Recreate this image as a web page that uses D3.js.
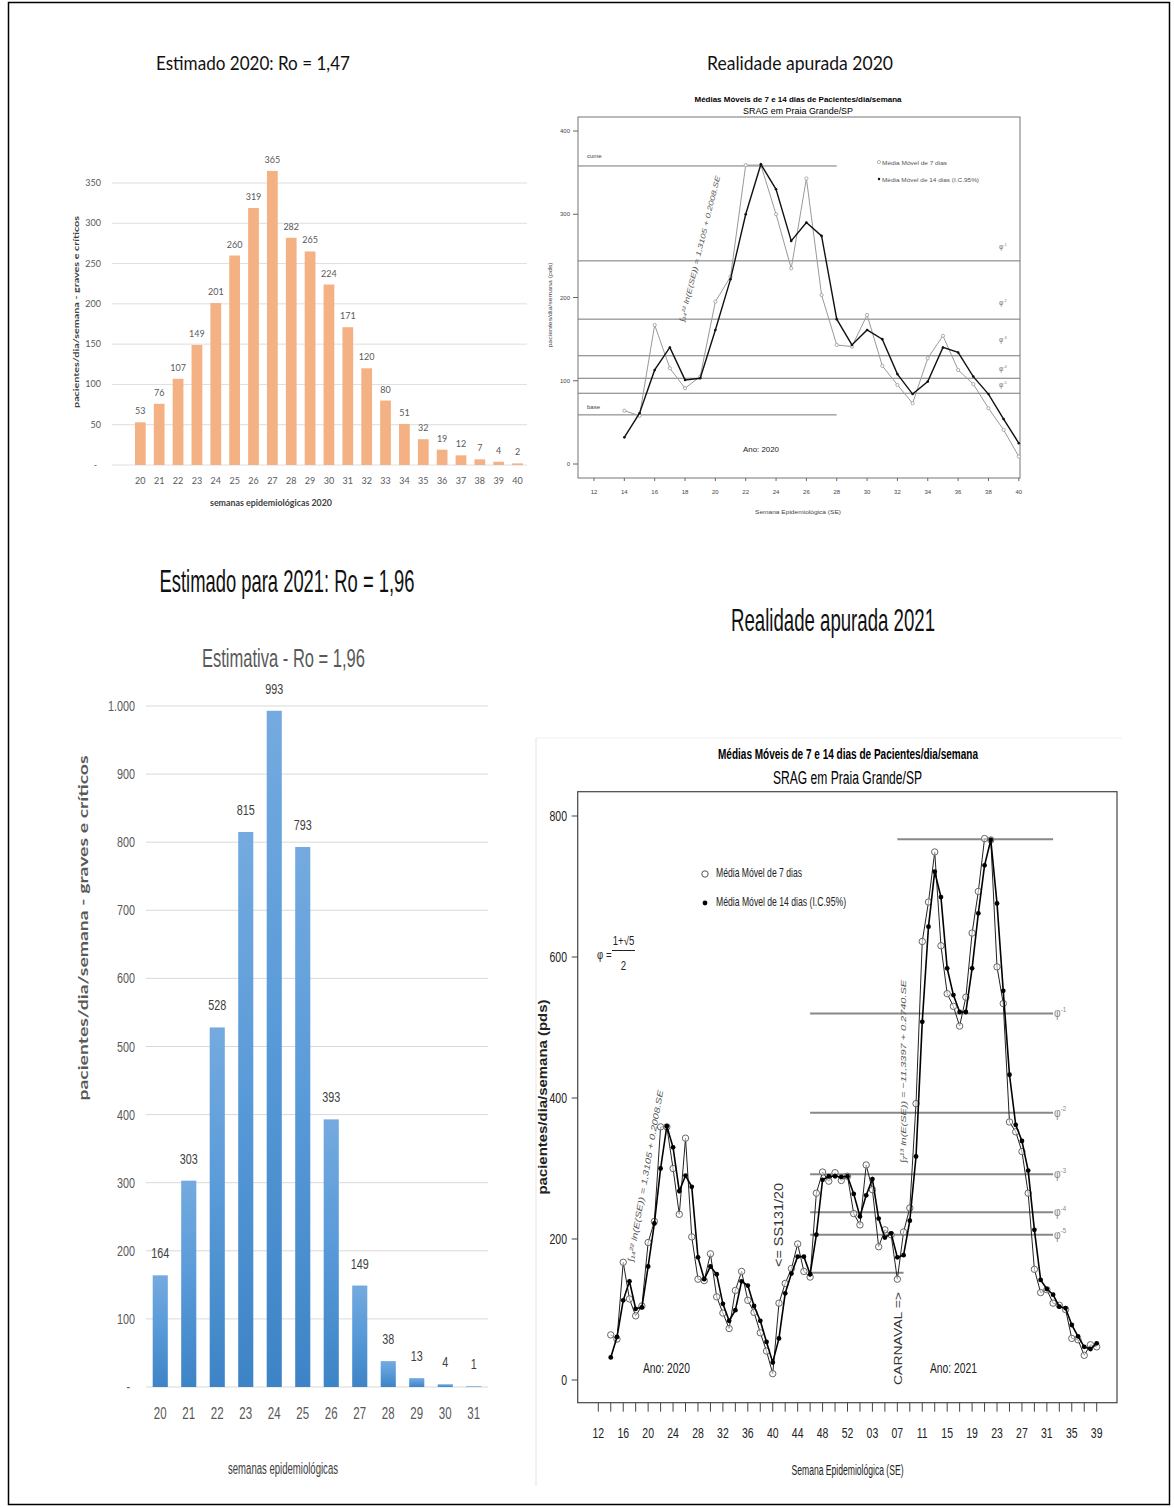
<!DOCTYPE html>
<html><head><meta charset="utf-8">
<script src="https://cdn.jsdelivr.net/npm/d3@7"></script>
<style>body{margin:0;background:#fff}svg{display:block}</style>
</head><body>
<script>
// ---------------- data ----------------
// Estimated weekly patients, 2020 (Ro = 1,47)
const weeksEst2020 = d3.range(20, 41);
const est2020 = [53,76,107,149,201,260,319,365,282,265,224,171,120,80,51,32,19,12,7,4,2];
const ticksEst2020 = [0,50,100,150,200,250,300,350];

// Estimated weekly patients, 2021 (Ro = 1,96)
const weeksEst2021 = d3.range(20, 32);
const est2021 = [164,303,528,815,993,793,393,149,38,13,4,1];
const ticksEst2021 = [0,100,200,300,400,500,600,700,800,900,1000];

// Moving averages (7 and 14 days), epidemiological weeks 14..53 of 2020
const se2020 = d3.range(14, 54);
const mm7_2020 = [64,58,167,115,91,105,195,225,359,359,300,235,343,203,143,141,179,118,95,73,127,154,113,96,67,41,9,109,137,158,193,154,146,265,295,282,294,283,289,236];
const mm14_2020 = [32,61,113,140,101,103,161,222,300,360,330,268,290,274,174,143,161,150,108,84,99,140,134,105,84,54,25,59,123,151,175,175,150,206,284,289,289,288,289,264];

// Moving averages, epidemiological weeks 1..39 of 2021
const se2021 = d3.range(1, 40);
const mm7_2021 = [220,305,270,189,213,206,143,210,244,392,622,678,749,616,548,530,502,543,634,693,768,766,586,534,366,352,324,265,157,124,128,109,106,100,59,57,35,50,47];
const mm14_2021 = [232,262,285,229,202,208,174,177,226,317,508,643,721,685,584,546,522,522,584,662,730,766,676,552,433,362,339,297,213,142,129,121,104,102,78,62,47,44,52];

// Reference levels (cume, base and golden-ratio powers)
const levels2020 = [358, 59];            // cume, base
const phi2020 = [244, 174, 130, 103, 85];
const levels2021 = [767, 152];           // peak, base
const phi2021 = [520, 379, 292, 238, 206];
const phiPowers = ["-1","-2","-3","-4","-5"];

// ---------------- helpers ----------------
const SANS = "'Liberation Sans', Arial, sans-serif";
const CAL = "Lato, 'Open Sans', sans-serif";
const PHI = "\u03C6";
const W = 1174, H = 1508;
const svg = d3.select("body").append("svg").attr("width", W).attr("height", H);
svg.append("rect").attr("width", W).attr("height", H).attr("fill", "#fff");
svg.append("rect").attr("x", 8.5).attr("y", 2.5).attr("width", 1161).attr("height", 1502)
  .attr("fill", "none").attr("stroke", "#000").attr("stroke-width", 1.5);

function label(g, x, y, s, o = {}) {
  let tf = `translate(${x},${y})`;
  if (o.rot) tf += ` rotate(${o.rot})`;
  if (o.sx) tf += ` scale(${o.sx},1)`;
  const t = g.append("text").attr("transform", tf)
    .attr("text-anchor", o.anchor || "start")
    .attr("font-family", o.family || SANS)
    .attr("font-size", o.size || 10)
    .attr("font-weight", o.weight || "normal")
    .attr("font-style", o.style || "normal")
    .attr("fill", o.fill || "#000")
    .text(s);
  if (o.len) t.attr("textLength", o.len).attr("lengthAdjust", "spacingAndGlyphs");
  return t;
}

// phi with a raised exponent
function phiLabel(sel, size, fill) {
  sel.attr("font-family", SANS).attr("font-size", size).attr("fill", fill).text(PHI)
    .append("tspan").attr("dy", -size * 0.45).attr("font-size", size * 0.6).text((d, i) => phiPowers[i]);
}

// ---------------- panel 1: estimate 2020 ----------------
{
  const g = svg.append("g");
  label(g, 253, 70, "Estimado 2020: Ro = 1,47", {anchor: "middle", size: 19, family: CAL, len: 194, fill: "#111"});
  const x = d3.scaleBand().domain(weeksEst2020).range([130.9, 527]).paddingInner(0.43).paddingOuter(0.215);
  const y = d3.scaleLinear().domain([0, 350]).range([465, 183]);
  g.selectAll(".grid").data(ticksEst2020).join("line")
    .attr("x1", 112).attr("x2", 527).attr("y1", d => y(d)).attr("y2", d => y(d))
    .attr("stroke", "#DEDEDE").attr("stroke-width", 1);
  g.selectAll(".yt").data(ticksEst2020).join("text")
    .attr("x", d => d === 0 ? 97 : 101).attr("y", d => y(d) + 3)
    .attr("text-anchor", "end").attr("font-family", CAL).attr("font-size", 9).attr("fill", "#595959")
    .text(d => d === 0 ? "-" : d);
  g.selectAll(".bar").data(est2020).join("rect")
    .attr("x", (d, i) => x(weeksEst2020[i])).attr("width", x.bandwidth())
    .attr("y", d => y(d)).attr("height", d => y(0) - y(d)).attr("fill", "#F4B183");
  g.selectAll(".val").data(est2020).join("text")
    .attr("x", (d, i) => x(weeksEst2020[i]) + x.bandwidth() / 2).attr("y", d => y(d) - 8)
    .attr("text-anchor", "middle").attr("font-family", CAL).attr("font-size", 9).attr("fill", "#595959")
    .text(d => d);
  g.selectAll(".xt").data(weeksEst2020).join("text")
    .attr("x", d => x(d) + x.bandwidth() / 2).attr("y", 484)
    .attr("text-anchor", "middle").attr("font-family", CAL).attr("font-size", 9).attr("fill", "#595959")
    .text(d => d);
  label(g, 271, 506, "semanas epidemiológicas 2020", {anchor: "middle", size: 8.5, weight: "bold", family: CAL, fill: "#404040", len: 122});
  label(g, 79, 312, "pacientes/dia/semana - graves e críticos", {anchor: "middle", rot: -90, size: 8, weight: "bold", family: CAL, fill: "#404040", len: 192});
}

// ---------------- panel 2: observed 2020 (R-style plot) ----------------
{
  const g = svg.append("g");
  label(g, 800, 70, "Realidade apurada 2020", {anchor: "middle", size: 19, family: CAL, len: 186, fill: "#111"});
  label(g, 798, 102, "Médias Móveis de 7 e 14 dias de Pacientes/dia/semana", {anchor: "middle", size: 8, weight: "bold", len: 207});
  label(g, 798, 114, "SRAG em Praia Grande/SP", {anchor: "middle", size: 9, len: 110});
  const x = d3.scaleLinear().domain([12, 40]).range([594, 1018.8]);
  const y = d3.scaleLinear().domain([0, 400]).range([464, 131]);
  const L = 578, R = 1020, T = 117, B = 478;
  g.append("rect").attr("x", L).attr("y", T).attr("width", R - L).attr("height", B - T)
    .attr("fill", "none").attr("stroke", "#666").attr("stroke-width", 0.9);
  const yt = [0, 100, 200, 300, 400];
  g.selectAll(".ytk").data(yt).join("line").attr("x1", L - 5).attr("x2", L).attr("y1", d => y(d)).attr("y2", d => y(d)).attr("stroke", "#666");
  g.selectAll(".ytl").data(yt).join("text").attr("x", 570).attr("y", d => y(d) + 2.2)
    .attr("text-anchor", "end").attr("font-family", SANS).attr("font-size", 6).attr("fill", "#444").text(d => d);
  const xt = d3.range(12, 41, 2);
  g.selectAll(".xtk").data(xt).join("line").attr("x1", d => x(d)).attr("x2", d => x(d)).attr("y1", B).attr("y2", B + 3).attr("stroke", "#666");
  g.selectAll(".xtl").data(xt).join("text").attr("x", d => x(d)).attr("y", 494)
    .attr("text-anchor", "middle").attr("font-family", SANS).attr("font-size", 6).attr("fill", "#444").text(d => d);
  label(g, 798, 514, "Semana Epidemiológica (SE)", {anchor: "middle", size: 6, fill: "#444", len: 86});
  label(g, 552, 305, "pacientes/dia/semana (pds)", {anchor: "middle", rot: -90, size: 6, fill: "#444", len: 85});

  // cume / base reference lines
  g.selectAll(".lev").data(levels2020).join("line")
    .attr("x1", L).attr("x2", x(28)).attr("y1", d => y(d)).attr("y2", d => y(d))
    .attr("stroke", "#777").attr("stroke-width", 1);
  label(g, 587, y(levels2020[0]) - 8, "cume", {size: 6, fill: "#444"});
  label(g, 587, y(levels2020[1]) - 6, "base", {size: 6, fill: "#444"});
  // golden-ratio levels
  g.selectAll(".phi").data(phi2020).join("line")
    .attr("x1", L).attr("x2", R).attr("y1", d => y(d)).attr("y2", d => y(d))
    .attr("stroke", "#777").attr("stroke-width", 1);
  const phiOff = [12, 14, 14, 7, 6];
  g.selectAll(".phil").data(phi2020).join("text")
    .attr("x", 999).attr("y", (d, i) => y(d) - phiOff[i])
    .call(phiLabel, 6.5, "#777");

  // series: weeks 14..40
  const n = se2020.filter(w => w <= 40).length;
  const s7 = se2020.slice(0, n).map((w, i) => [w, mm7_2020[i]]);
  const s14 = se2020.slice(0, n).map((w, i) => [w, mm14_2020[i]]);
  const line = d3.line().x(d => x(d[0])).y(d => y(d[1]));
  g.append("path").attr("d", line(s7)).attr("fill", "none").attr("stroke", "#999").attr("stroke-width", 1);
  g.selectAll(".c7").data(s7).join("circle").attr("cx", d => x(d[0])).attr("cy", d => y(d[1])).attr("r", 1.6)
    .attr("fill", "#fff").attr("stroke", "#999").attr("stroke-width", 0.8);
  g.append("path").attr("d", line(s14)).attr("fill", "none").attr("stroke", "#111").attr("stroke-width", 1.4);
  g.selectAll(".c14").data(s14).join("circle").attr("cx", d => x(d[0])).attr("cy", d => y(d[1])).attr("r", 1.3).attr("fill", "#111");

  // legend
  g.append("circle").attr("cx", 879).attr("cy", 162).attr("r", 1.6).attr("fill", "none").attr("stroke", "#999").attr("stroke-width", 0.7);
  label(g, 882, 164.5, "Média Móvel de 7 dias", {size: 5.5, fill: "#555", len: 65});
  g.append("circle").attr("cx", 879).attr("cy", 179).attr("r", 1.2).attr("fill", "#111");
  label(g, 882, 181.5, "Média Móvel de 14 dias (I.C.95%)", {size: 5.5, fill: "#555", len: 97});

  label(g, 761, 452, "Ano: 2020", {anchor: "middle", size: 7, fill: "#222", len: 36});
  label(g, 684, 322, "∫₁₄²² ln(E(SE)) = 1,3105 + 0.2008.SE", {rot: -76, size: 7, style: "italic", fill: "#555", len: 150});
}

// ---------------- panel 3: estimate 2021 ----------------
{
  const g = svg.append("g");
  const defs = svg.append("defs");
  const grad = defs.append("linearGradient").attr("id", "blueBar").attr("x1", 0).attr("y1", 0).attr("x2", 0).attr("y2", 1);
  grad.append("stop").attr("offset", 0).attr("stop-color", "#74AADF");
  grad.append("stop").attr("offset", 0.45).attr("stop-color", "#5A9BD9");
  grad.append("stop").attr("offset", 1).attr("stop-color", "#3D84C6");

  label(g, 287, 592, "Estimado para 2021: Ro = 1,96", {anchor: "middle", size: 32, len: 255, fill: "#111"});
  label(g, 283.5, 667, "Estimativa - Ro = 1,96", {anchor: "middle", size: 25, len: 163, fill: "#595959"});
  const ptFmt = d3.formatLocale({decimal: ",", thousands: ".", grouping: [3], currency: ["", ""]}).format(",");
  const x = d3.scaleBand().domain(weeksEst2021).range([146, 488]).paddingInner(0.47).paddingOuter(0.235);
  const y = d3.scaleLinear().domain([0, 1000]).range([1387, 706]);
  g.selectAll(".grid").data(ticksEst2021).join("line")
    .attr("x1", 146).attr("x2", 488).attr("y1", d => y(d)).attr("y2", d => y(d))
    .attr("stroke", "#D9D9D9").attr("stroke-width", 1);
  g.selectAll(".yt").data(ticksEst2021).join("text")
    .attr("transform", d => `translate(${d === 0 ? 130 : 135},${y(d) + 5}) scale(0.72,1)`)
    .attr("text-anchor", "end").attr("font-family", SANS).attr("font-size", 15).attr("fill", "#595959")
    .text(d => d === 0 ? "-" : ptFmt(d));
  g.selectAll(".bar").data(est2021).join("rect")
    .attr("x", (d, i) => x(weeksEst2021[i])).attr("width", x.bandwidth())
    .attr("y", d => y(d)).attr("height", d => y(0) - y(d)).attr("fill", "url(#blueBar)");
  g.selectAll(".val").data(est2021).join("text")
    .attr("transform", (d, i) => `translate(${x(weeksEst2021[i]) + x.bandwidth() / 2},${y(d) - 17}) scale(0.72,1)`)
    .attr("text-anchor", "middle").attr("font-family", SANS).attr("font-size", 15).attr("fill", "#404040")
    .text(d => d);
  g.selectAll(".xt").data(weeksEst2021).join("text")
    .attr("transform", d => `translate(${x(d) + x.bandwidth() / 2},1419) scale(0.72,1)`)
    .attr("text-anchor", "middle").attr("font-family", SANS).attr("font-size", 16).attr("fill", "#595959")
    .text(d => d);
  label(g, 283, 1474, "semanas epidemiológicas", {anchor: "middle", size: 16, len: 110, fill: "#404040"});
  label(g, 88, 928, "pacientes/dia/semana - graves e críticos", {anchor: "middle", rot: -90, size: 13, weight: "bold", family: CAL, fill: "#595959", len: 345});
}

// ---------------- panel 4: observed 2020-2021 ----------------
{
  const g = svg.append("g");
  label(g, 833, 631, "Realidade apurada 2021", {anchor: "middle", size: 32, len: 204, fill: "#111"});
  g.append("line").attr("x1", 536).attr("x2", 536).attr("y1", 738).attr("y2", 1486).attr("stroke", "#e4e4e4");
  g.append("line").attr("x1", 536).attr("x2", 1122).attr("y1", 738).attr("y2", 738).attr("stroke", "#f0f0f0");

  label(g, 848, 759, "Médias Móveis de 7 e 14 dias de Pacientes/dia/semana", {anchor: "middle", size: 14, weight: "bold", len: 260});
  label(g, 847.5, 784, "SRAG em Praia Grande/SP", {anchor: "middle", size: 18, len: 149});

  const L = 577.7, R = 1117, T = 791.7, B = 1402.7;
  const x = d3.scaleLinear().domain([0, 80]).range([598.3, 1096.7]);
  const y = d3.scaleLinear().domain([0, 800]).range([1380, 816]);
  g.append("rect").attr("x", L).attr("y", T).attr("width", R - L).attr("height", B - T)
    .attr("fill", "none").attr("stroke", "#444").attr("stroke-width", 1.2);
  const yt = [0, 200, 400, 600, 800];
  g.selectAll(".ytk").data(yt).join("line").attr("x1", L - 6).attr("x2", L).attr("y1", d => y(d)).attr("y2", d => y(d)).attr("stroke", "#444");
  g.selectAll(".ytl").data(yt).join("text")
    .attr("transform", d => `translate(567,${y(d) + 5}) scale(0.75,1)`)
    .attr("text-anchor", "end").attr("font-family", SANS).attr("font-size", 14).attr("fill", "#222").text(d => d);
  const weekName = i => i <= 41 ? String(12 + i) : String(i - 41).padStart(2, "0");
  const xt = d3.range(0, 81, 2);
  g.selectAll(".xtk").data(xt).join("line").attr("x1", d => x(d)).attr("x2", d => x(d)).attr("y1", B).attr("y2", B + 9).attr("stroke", "#444");
  g.selectAll(".xtl").data(d3.range(0, 81, 4)).join("text")
    .attr("transform", d => `translate(${x(d)},1438) scale(0.75,1)`)
    .attr("text-anchor", "middle").attr("font-family", SANS).attr("font-size", 14).attr("fill", "#222").text(weekName);
  label(g, 847.5, 1475, "Semana Epidemiológica (SE)", {anchor: "middle", size: 14, len: 112, fill: "#222"});
  label(g, 547, 1097, "pacientes/dia/semana (pds)", {anchor: "middle", rot: -90, size: 12, weight: "bold", len: 195, fill: "#222"});

  // index on the continuous week axis
  const i2020 = w => w - 12, i2021 = w => 41 + w;

  // reference lines
  g.append("line").attr("x1", x(i2021(7))).attr("x2", x(i2021(32))).attr("y1", y(levels2021[0])).attr("y2", y(levels2021[0]))
    .attr("stroke", "#888").attr("stroke-width", 2);
  g.append("line").attr("x1", x(i2020(46))).attr("x2", x(i2021(8))).attr("y1", y(levels2021[1])).attr("y2", y(levels2021[1]))
    .attr("stroke", "#888").attr("stroke-width", 2);
  g.selectAll(".phi").data(phi2021).join("line")
    .attr("x1", x(i2020(46))).attr("x2", x(i2021(32))).attr("y1", d => y(d)).attr("y2", d => y(d))
    .attr("stroke", "#888").attr("stroke-width", 2);
  g.selectAll(".phil").data(phi2021).join("text")
    .attr("transform", d => `translate(${x(i2021(32)) + 1},${y(d) + 4}) scale(0.85,1)`)
    .call(phiLabel, 12, "#888");

  // series
  const s7 = se2020.map((w, i) => [i2020(w), mm7_2020[i]]).concat(se2021.map((w, i) => [i2021(w), mm7_2021[i]]));
  const s14 = se2020.map((w, i) => [i2020(w), mm14_2020[i]]).concat(se2021.map((w, i) => [i2021(w), mm14_2021[i]]));
  const line = d3.line().x(d => x(d[0])).y(d => y(d[1]));
  g.append("path").attr("d", line(s7)).attr("fill", "none").attr("stroke", "#222").attr("stroke-width", 1);
  g.selectAll(".c7").data(s7).join("circle").attr("cx", d => x(d[0])).attr("cy", d => y(d[1])).attr("r", 3.2)
    .attr("fill", "#fff").attr("fill-opacity", 0.6).attr("stroke", "#666").attr("stroke-width", 1);
  g.append("path").attr("d", line(s14)).attr("fill", "none").attr("stroke", "#000").attr("stroke-width", 1.6);
  g.selectAll(".c14").data(s14).join("circle").attr("cx", d => x(d[0])).attr("cy", d => y(d[1])).attr("r", 2.4).attr("fill", "#000");

  // legend
  g.append("circle").attr("cx", 705).attr("cy", 874).attr("r", 3.2).attr("fill", "none").attr("stroke", "#555");
  label(g, 716, 877, "Média Móvel de 7 dias", {size: 13, len: 86, fill: "#222"});
  g.append("circle").attr("cx", 705).attr("cy", 903).attr("r", 2.4).attr("fill", "#000");
  label(g, 716, 906, "Média Móvel de 14 dias (I.C.95%)", {size: 13, len: 130, fill: "#222"});

  // golden ratio definition
  label(g, 597, 959, PHI + " =", {size: 12, fill: "#222", sx: 0.8});
  label(g, 623.5, 945, "1+√5", {anchor: "middle", size: 12, fill: "#222", sx: 0.8});
  g.append("line").attr("x1", 612).attr("x2", 635).attr("y1", 950.5).attr("y2", 950.5).attr("stroke", "#222");
  label(g, 623.5, 970, "2", {anchor: "middle", size: 12, fill: "#222", sx: 0.8});

  // annotations
  label(g, 666.5, 1373, "Ano: 2020", {anchor: "middle", size: 15, len: 47, fill: "#222"});
  label(g, 953.5, 1373, "Ano: 2021", {anchor: "middle", size: 15, len: 47, fill: "#222"});
  label(g, 783, 1225, "<= SS131/20", {anchor: "middle", rot: -90, size: 12, len: 84, fill: "#333"});
  label(g, 902, 1385, "CARNAVAL =>", {rot: -90, size: 11, len: 93, fill: "#333"});
  label(g, 633, 1262, "∫₁₄²² ln(E(SE)) = 1,3105 + 0.2008.SE", {rot: -80, size: 8, style: "italic", fill: "#555", len: 174});
  label(g, 906, 1163, "∫₇¹³ ln(E(SE)) = −11,3397 + 0.2740.SE", {rot: -90, size: 8, style: "italic", fill: "#555", len: 183});
}
</script>
</body></html>
